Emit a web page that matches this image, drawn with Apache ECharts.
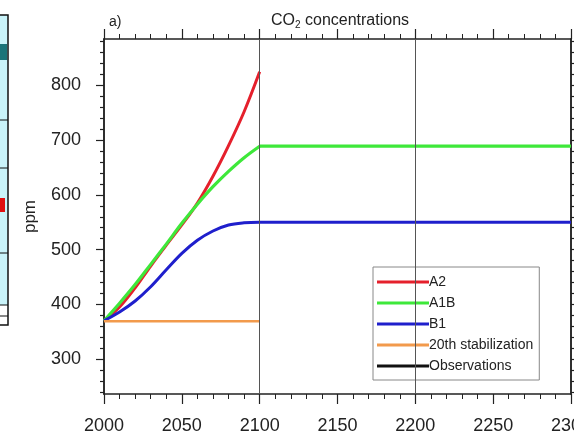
<!DOCTYPE html>
<html>
<head>
<meta charset="utf-8">
<script src="https://cdn.jsdelivr.net/npm/echarts@6/dist/echarts.min.js"></script>
<style>
  html, body { margin: 0; padding: 0; background: #fff; }
  #chart { width: 574px; height: 435px; }
</style>
</head>
<body>
<div id="chart"></div>
<script>
// scenario years and values (ppm)
var years = [2000, 2010, 2020, 2030, 2040, 2050, 2060, 2070, 2080, 2090, 2100];
var a2  = [370, 395, 430, 470, 508, 545, 585, 634, 690, 752, 825];
var a1b = [370, 402, 436, 473, 510, 548, 583, 615, 643, 668, 689];
var b1  = [370, 386, 406, 432, 463, 493, 517, 534, 545, 549, 550];
// after 2100 the concentrations are held fixed until 2300
var holdYears = [2100, 2300];
var a1bHold = [689, 689];
var b1Hold = [550, 550];
var stabYears = [2000, 2100];
var stab = [369, 369];
var eraLines = [2100, 2200];

var yMajor = [300, 400, 500, 600, 700, 800];
var yMinor = [240, 260, 280, 320, 340, 360, 380, 420, 440, 460, 480, 520, 540, 560, 580,
              620, 640, 660, 680, 720, 740, 760, 780, 820, 840, 860, 880];

var myChart = echarts.init(document.getElementById('chart'), null, { renderer: 'canvas' });

function pairs(xs, ys) {
    return xs.map(function (x, i) { return [x, ys[i]]; });
}

var fontFam = '"Liberation Sans", Arial, Helvetica, sans-serif';
var ink = '#222';
var yMin = 236, yMax = 885;
var cRed = '#e5202c', cGreen = '#3ee83a', cBlue = '#1f1fcc', cOrange = '#f29a4c';

function yAx(pos, values, len, labels) {
    return {
        type: 'value', position: pos, min: yMin, max: yMax,
        axisLine: { show: true, lineStyle: { color: ink, width: 1.5 } },
        axisTick: { show: true, inside: false, length: len, customValues: values,
                    lineStyle: { color: ink, width: 1.2 } },
        axisLabel: { show: labels, customValues: values, margin: 23,
                     color: ink, fontSize: 18, fontFamily: fontFam },
        splitLine: { show: false }
    };
}

function xAx(pos, labels) {
    return {
        type: 'value', position: pos, min: 2000, max: 2300, interval: 50,
        axisLine: { show: true, lineStyle: { color: ink, width: 1.5 } },
        axisTick: { show: true, inside: false, length: 10, lineStyle: { color: ink, width: 1.2 } },
        minorTick: { show: true, splitNumber: 5, length: 5, lineStyle: { color: ink, width: 1 } },
        axisLabel: { show: labels, margin: 23, color: ink, fontSize: 18, fontFamily: fontFam,
                     formatter: function (v) { return String(v); } },
        splitLine: { show: false }
    };
}

var left = yAx('left', yMajor, 8, true);
left.name = 'ppm';
left.nameLocation = 'middle';
left.nameGap = 65;
left.nameTextStyle = { color: ink, fontSize: 17, fontFamily: fontFam };

function curve(name, color, width, data, smooth) {
    return {
        name: name, type: 'line', showSymbol: false, symbol: 'none', smooth: smooth,
        color: color, lineStyle: { width: width }, data: data
    };
}

var stabSeries = curve('20th stabilization', cOrange, 2.5, pairs(stabYears, stab), false);
stabSeries.markLine = {
    silent: true, symbol: 'none', animation: false,
    label: { show: false },
    lineStyle: { color: '#555', width: 1, type: 'solid' },
    data: eraLines.map(function (v) { return { xAxis: v }; })
};

myChart.setOption({
    animation: false,
    backgroundColor: '#fff',
    textStyle: { fontFamily: fontFam },
    title: [
        {
            text: '{a|CO}{b|2}{a| concentrations}',
            left: 266, top: 7,
            textStyle: {
                fontWeight: 'normal',
                rich: {
                    a: { fontSize: 16, fontWeight: 'normal', color: ink, fontFamily: fontFam },
                    b: { fontSize: 10, fontWeight: 'normal', color: ink, fontFamily: fontFam, padding: [8, 0, 0, 0] }
                }
            }
        },
        {
            text: 'a)', left: 104, top: 10,
            textStyle: { fontSize: 14, fontWeight: 'normal', color: ink, fontFamily: fontFam }
        }
    ],
    grid: { left: 104, top: 39, width: 467, height: 355, containLabel: false, outerBoundsMode: 'none' },
    xAxis: [xAx('bottom', true), xAx('top', false)],
    yAxis: [
        left,
        yAx('left', yMinor, 4, false),
        yAx('right', yMajor, 8, false),
        yAx('right', yMinor, 4, false)
    ],
    legend: {
        orient: 'vertical',
        left: 373, top: 267,
        padding: [8, 6, 7, 4],
        itemGap: 7,
        itemWidth: 52, itemHeight: 3,
        icon: 'rect',
        backgroundColor: '#fff',
        borderColor: '#888', borderWidth: 1,
        textStyle: { color: ink, fontSize: 14, lineHeight: 14, fontFamily: fontFam, padding: [0, 0, 0, -5] },
        data: ['A2', 'A1B', 'B1', '20th stabilization', 'Observations']
    },
    graphic: [
        // sliver of the neighbouring panel at the left edge
        { type: 'rect', shape: { x: 0, y: 15, width: 8, height: 290 }, style: { fill: '#c9f3f9' } },
        { type: 'rect', shape: { x: 0, y: 44, width: 7, height: 16 }, style: { fill: '#1b7479' } },
        { type: 'rect', shape: { x: 0, y: 198, width: 5, height: 14 }, style: { fill: '#e01010' } },
        { type: 'polyline', shape: { points: [[0, 15], [8, 15], [8, 325], [0, 325]] },
          style: { stroke: '#111', lineWidth: 1.5, fill: null } },
        { type: 'line', shape: { x1: 0, y1: 120, x2: 8, y2: 120 }, style: { stroke: '#111', lineWidth: 1 } },
        { type: 'line', shape: { x1: 0, y1: 168, x2: 8, y2: 168 }, style: { stroke: '#111', lineWidth: 1 } },
        { type: 'line', shape: { x1: 0, y1: 253, x2: 8, y2: 253 }, style: { stroke: '#111', lineWidth: 1 } },
        { type: 'line', shape: { x1: 0, y1: 305, x2: 8, y2: 305 }, style: { stroke: '#111', lineWidth: 1 } },
        { type: 'line', shape: { x1: 0, y1: 316, x2: 8, y2: 316 }, style: { stroke: '#111', lineWidth: 1 } }
    ],
    series: [
        curve('A2', cRed, 3, pairs(years, a2), 0.35),
        curve('A1B', cGreen, 3.2, pairs(years, a1b), 0.35),
        curve('A1B', cGreen, 3.2, pairs(holdYears, a1bHold), false),
        curve('B1', cBlue, 3, pairs(years, b1), 0.35),
        curve('B1', cBlue, 3, pairs(holdYears, b1Hold), false),
        stabSeries,
        curve('Observations', '#111', 2.5, [], false)
    ]
});
</script>
</body>
</html>
